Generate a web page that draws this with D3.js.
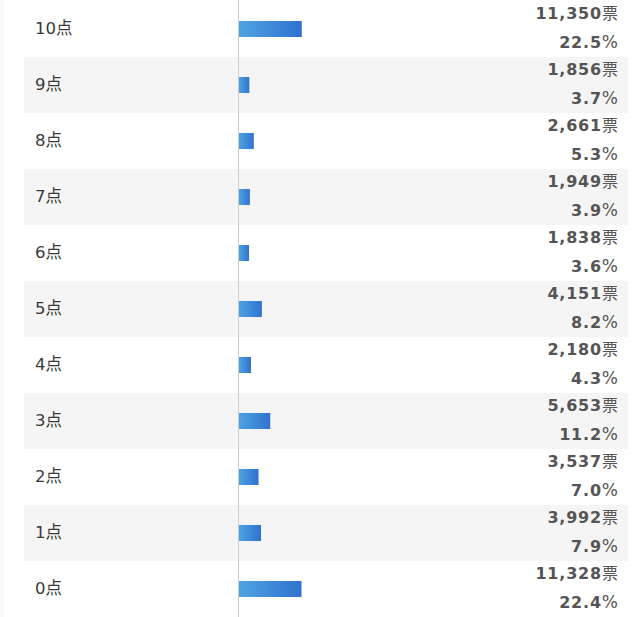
<!DOCTYPE html>
<html lang="ja">
<head>
<meta charset="UTF-8">
<title>Score votes</title>
<style>
  body { margin: 0; background: #fff; }
  svg text { font-family: "DejaVu Sans", Verdana, "Noto Sans CJK JP", sans-serif; }
</style>
</head>
<body>
<div id="chart"></div>
<script src="https://cdn.jsdelivr.net/npm/d3@7"></script>
<script>
  var labels = ["10点", "9点", "8点", "7点", "6点", "5点", "4点", "3点", "2点", "1点", "0点"];
  var votes = [11350, 1856, 2661, 1949, 1838, 4151, 2180, 5653, 3537, 3992, 11328];
  var percents = [22.5, 3.7, 5.3, 3.9, 3.6, 8.2, 4.3, 11.2, 7.0, 7.9, 22.4];

  var width = 632, height = 617;
  var rowH = 56;
  var axisX = 238.5;

  var svg = d3.select("#chart").append("svg")
    .attr("width", width)
    .attr("height", height);

  var grad = svg.append("defs").append("linearGradient")
    .attr("id", "barGrad")
    .attr("x1", "0%").attr("x2", "100%");
  grad.append("stop").attr("offset", "0%").attr("stop-color", "#4ea3e0");
  grad.append("stop").attr("offset", "100%").attr("stop-color", "#3072d0");

  var y = d3.scaleBand()
    .domain(labels)
    .range([0, rowH * labels.length]);

  // bar length is the share of 100%
  var x = d3.scaleLinear()
    .domain([0, 100])
    .range([0, 279]);

  var rows = svg.selectAll("g.row")
    .data(labels)
    .enter()
    .append("g")
    .attr("class", "row")
    .attr("transform", function(d) { return "translate(0," + y(d) + ")"; });

  rows.filter(function(d, i) { return i % 2 == 1; })
    .append("rect")
    .attr("x", 24)
    .attr("y", 1)
    .attr("width", 604)
    .attr("height", y.bandwidth())
    .attr("fill", "#f5f5f5");

  svg.append("rect")
    .attr("x", 0).attr("width", 4)
    .attr("height", height)
    .attr("fill", "#fafafa");

  svg.append("line")
    .attr("x1", axisX).attr("x2", axisX)
    .attr("y1", 0).attr("y2", height)
    .attr("stroke", "#ccc")
    .attr("stroke-width", 1);

  rows.append("text")
    .attr("x", 35)
    .attr("y", 34)
    .attr("font-size", 16.5)
    .attr("fill", "#3a3a3a")
    .text(function(d) { return d; });

  rows.append("rect")
    .attr("x", axisX + 0.5)
    .attr("y", 21)
    .attr("height", 16)
    .attr("width", function(d, i) { return x(percents[i]); })
    .attr("fill", "url(#barGrad)");

  var fmt = d3.format(",");

  var cnt = rows.append("text")
    .attr("x", 618)
    .attr("y", 19)
    .attr("text-anchor", "end")
    .attr("font-size", 16)
    .attr("fill", "#555");
  cnt.append("tspan")
    .attr("font-weight", "bold")
    .attr("letter-spacing", 0.8)
    .text(function(d, i) { return fmt(votes[i]); });
  cnt.append("tspan")
    .text("票");

  var pct = rows.append("text")
    .attr("x", 618)
    .attr("y", 48)
    .attr("text-anchor", "end")
    .attr("font-size", 16)
    .attr("fill", "#555");
  pct.append("tspan")
    .attr("font-weight", "bold")
    .attr("letter-spacing", 0.8)
    .text(function(d, i) { return percents[i].toFixed(1); });
  pct.append("tspan")
    .attr("font-size", 17)
    .text("%");
</script>
</body>
</html>
